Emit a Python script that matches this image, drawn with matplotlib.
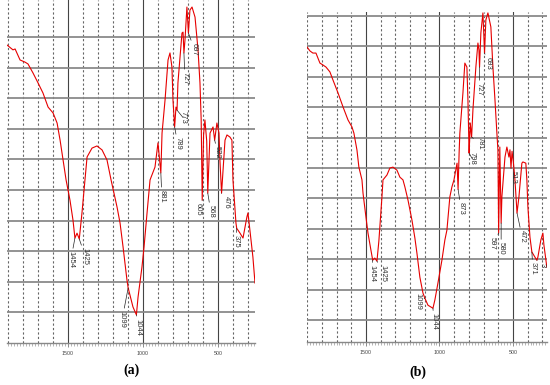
import numpy as np
import matplotlib.pyplot as plt
from matplotlib.ticker import FixedLocator, MultipleLocator

plt.rcParams['font.family'] = ['Liberation Sans', 'DejaVu Sans']

# ---- spectrum (a) ----
wn_a = [1907, 1867, 1853, 1820, 1787, 1767, 1733, 1700, 1667, 1633, 1600, 1573,
        1553, 1533, 1513, 1487, 1467, 1454, 1440, 1425, 1407, 1387, 1373, 1340,
        1307, 1273, 1240, 1213, 1173, 1153, 1133, 1107, 1099, 1087, 1067, 1044,
        1033, 1007, 993, 973, 953, 920, 900, 881, 873, 853, 833, 820, 807, 800,
        789, 780, 773, 767, 740, 733, 727, 720, 707, 697, 687, 673, 653, 633,
        620, 612, 605, 596, 587, 575, 568, 553, 533, 522, 507, 493, 487, 476,
        453, 440, 420, 407, 400, 380, 375, 353, 333, 307, 300, 287, 267, 253]
t_a = [9.74, 9.58, 9.61, 9.25, 9.18, 9.12, 8.82, 8.50, 8.17, 7.71, 7.52, 7.19,
       6.63, 5.98, 5.33, 4.67, 4.02, 3.43, 3.59, 3.40, 4.25, 5.33, 6.08, 6.37,
       6.44, 6.31, 5.98, 5.33, 4.44, 3.92, 3.14, 2.06, 1.80, 1.57, 1.18, 0.92,
       1.50, 2.48, 3.14, 4.25, 5.33, 5.75, 6.54, 5.56, 6.86, 7.94, 9.25, 9.48,
       9.02, 7.94, 7.06, 7.71, 7.61, 8.50, 10.13, 10.16, 9.48, 9.90, 10.98,
       10.13, 10.88, 10.98, 10.65, 9.58, 8.50, 7.30, 4.67, 6.80, 7.29, 6.60,
       4.90, 6.86, 7.06, 6.63, 7.19, 6.86, 5.98, 4.90, 6.63, 6.80, 6.73, 6.63,
       5.33, 3.92, 3.75, 3.59, 3.43, 4.12, 4.25, 3.69, 2.81, 1.96]
peaks_a = ['1454', '1425', '1099', '1044', '881', '789', '773', '727', '697',
           '522', '605', '568', '476', '375']
# label offsets from the band, in pixels
offs_a = [(-4, -13), (6, -9), (-6, -23), (2, -4), (1, -17), (3, -10), (6, -1),
          (1, -19), (6, -10), (3, -6), (-4, -3), (3, -12), (5, -3), (-1, -7)]

# ---- spectrum (b) ----
wn_b = [1901, 1881, 1861, 1840, 1827, 1813, 1793, 1772, 1745, 1724, 1690, 1656,
        1622, 1595, 1582, 1561, 1548, 1527, 1520, 1500, 1486, 1466, 1454, 1440,
        1425, 1412, 1391, 1384, 1357, 1337, 1316, 1289, 1269, 1248, 1235, 1214,
        1187, 1167, 1153, 1133, 1112, 1099, 1078, 1044, 1031, 1010, 983, 963,
        949, 929, 915, 901, 880, 873, 866, 861, 840, 827, 813, 806, 800, 798,
        790, 781, 772, 752, 738, 731, 727, 718, 704, 693, 684, 670, 650, 636,
        622, 609, 602, 597, 589, 580, 575, 554, 541, 527, 520, 513, 506, 497,
        486, 472, 459, 439, 432, 412, 405, 398, 384, 371, 350, 337, 330, 310,
        296, 289, 269]
t_b = [8.98, 8.85, 8.78, 8.78, 8.62, 8.45, 8.39, 8.32, 8.16, 7.89, 7.47, 7.01,
       6.58, 6.35, 6.15, 5.59, 5.03, 4.61, 4.18, 3.39, 2.86, 2.30, 1.97, 2.04,
       1.94, 2.60, 4.05, 4.61, 4.77, 5.00, 5.03, 4.93, 4.70, 4.61, 4.38, 3.95,
       3.29, 2.70, 2.20, 1.41, 0.89, 0.72, 0.49, 0.39, 0.66, 1.22, 1.97, 2.63,
       2.96, 4.05, 4.38, 4.61, 5.16, 4.30, 5.50, 6.15, 7.47, 8.45, 8.32, 7.24,
       5.92, 5.49, 6.48, 6.02, 6.91, 8.32, 9.11, 8.88, 8.32, 9.44, 10.10, 8.78,
       9.87, 10.10, 9.64, 8.32, 7.24, 6.15, 5.59, 2.86, 5.69, 3.19, 4.05, 5.36,
       5.69, 5.36, 5.60, 5.00, 5.55, 5.20, 4.61, 3.52, 4.05, 5.16, 5.20, 5.16,
       4.61, 3.72, 2.73, 2.24, 2.07, 1.97, 2.07, 2.63, 2.86, 2.47, 1.74]
peaks_b = ['1454', '1425', '1099', '1044', '873', '798', '781', '727', '693',
           '597', '580', '513', '472', '371', '3']
band_b = [1454, 1425, 1099, 1044, 873, 798, 781, 727, 693, 597, 580, 513, 472,
          371, 337]
offs_b = [(-1, -5), (6, -4), (-7, 5), (1, -5), (3, -13), (3, 1), (8, 0),
          (0, -16), (4, -4), (-6, -4), (0, -19), (2, -3), (5, -17), (1, -10),
          (5, -3)]


def panel(ax, wn, t, labels, bands, offs, xlim, ylim, hl):
    ax.set_xlim(*xlim)
    ax.set_ylim(*ylim)
    for x in range(300, 2000, 100):
        if x % 500 == 0:
            ax.axvline(x, color='#444444', lw=0.8, zorder=1)
        else:
            ax.axvline(x, color='#666666', lw=0.8, ls=(0, (2, 2)), zorder=1)
    for y in hl:
        ax.axhline(y, color='#8a8a8a', lw=1.3, zorder=1)
    ax.plot(wn, t, color='#e60000', lw=0.8, zorder=3)

    xs = np.array(wn)[::-1]
    ys = np.array(t)[::-1]
    for lab, b, (dx, dy) in zip(labels, bands, offs):
        yb = np.interp(b, xs, ys)
        ax.annotate(lab, xy=(b, yb), xytext=(dx, dy), textcoords='offset pixels',
                    rotation=270, ha='center', va='top', fontsize=5.5,
                    color='#333333', zorder=4,
                    arrowprops=dict(arrowstyle='-', lw=0.5, color='#222222',
                                    shrinkA=0, shrinkB=0))

    ax.xaxis.set_major_locator(FixedLocator([1500, 1000, 500]))
    ax.xaxis.set_minor_locator(MultipleLocator(20))
    ax.tick_params(axis='x', which='major', length=3, width=0.6, color='#777777',
                   labelsize=3.8, labelcolor='#444444', pad=3)
    ax.tick_params(axis='x', which='minor', length=2, width=0.5, color='#999999')
    ax.set_yticks([])
    for s in ['top', 'right', 'left']:
        ax.spines[s].set_visible(False)
    ax.spines['bottom'].set_color('#888888')
    ax.spines['bottom'].set_linewidth(1.0)
    ax.patch.set_alpha(0)


fig = plt.figure(figsize=(5.5, 3.85), dpi=100)
ax1 = fig.add_axes([7 / 550, 42 / 385, 248 / 550, 343 / 385])
ax2 = fig.add_axes([307 / 550, 43 / 385, 240 / 550, 330 / 385])

panel(ax1, wn_a, t_a, peaks_a, [int(p) for p in peaks_a], offs_a,
      (1907, 253), (0, 11.21), range(1, 11))
panel(ax2, wn_b, t_b, peaks_b, band_b, offs_b,
      (1901, 268), (-0.72, 10.13), range(0, 11))

fig.text(131 / 550, 1 - 370 / 385, '(a)', ha='center', va='center',
         fontsize=10, fontweight='bold', family='Liberation Serif')
fig.text(418 / 550, 1 - 372 / 385, '(b)', ha='center', va='center',
         fontsize=10, fontweight='bold', family='Liberation Serif')

fig.savefig('out.png', dpi=100)
